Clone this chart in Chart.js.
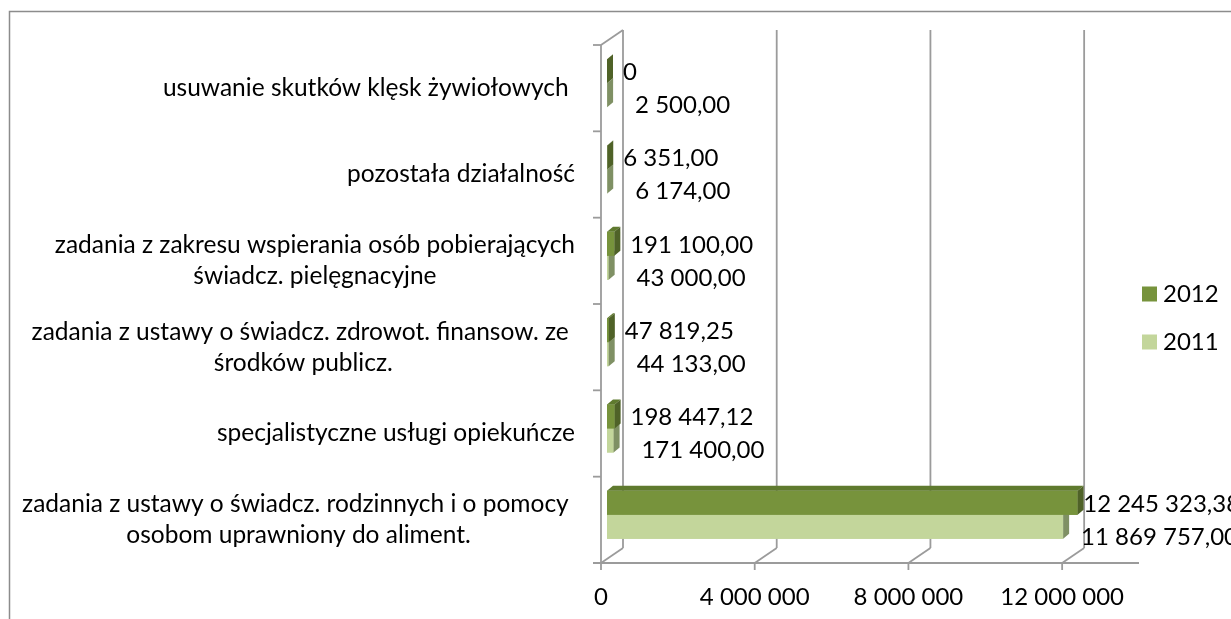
<!DOCTYPE html>
<html>
<head>
<meta charset="utf-8">
<script src="https://cdn.jsdelivr.net/npm/chart.js@4.4.0/dist/chart.umd.min.js"></script>
<style>
    html, body { margin: 0; padding: 0; background: #fff; }
    #wrap { width: 1231px; height: 619px; }
</style>
</head>
<body>
<div id="wrap"><canvas id="chart" width="1231" height="619"></canvas></div>
<script>
const categories = [
    ['usuwanie skutków klęsk żywiołowych '],
    ['pozostała działalność'],
    ['zadania z zakresu wspierania osób pobierających', 'świadcz. pielęgnacyjne'],
    ['zadania z ustawy o świadcz. zdrowot. finansow. ze ', 'środków publicz.'],
    ['specjalistyczne usługi opiekuńcze'],
    ['zadania z ustawy o świadcz. rodzinnych i o pomocy ', 'osobom uprawniony do aliment.']
];
const values2012 = [0, 6351.00, 191100.00, 47819.25, 198447.12, 12245323.38];
const values2011 = [2500.00, 6174.00, 43000.00, 44133.00, 171400.00, 11869757.00];
const seriesNames = ['2012', '2011'];
const axisTicks = [0, 4000000, 8000000, 12000000];
const axisMax = 14000000;

const FONT = 'Lato, "Liberation Sans", sans-serif';
const FONT_SIZE = 24;
// 3D look: walls go back by DX/DY, bars sit BX/BY behind the front plane
const DX = 22, DY = -15;
const BX = 6, BY = -5;

const faces = [
    { front: '#77933c', top: '#5f7a2e', side: '#4f6228' },   // 2012
    { front: '#c3d69b', top: '#a8bc7c', side: '#7f9064' }    // 2011
];

function group(str) {
    return str.replace(/\B(?=(\d{3})+(?!\d))/g, ' ');
}
function fmtInt(v) { return group(String(Math.round(v))); }
function fmtVal(v) {
    if (v === 0) return '0';
    const parts = v.toFixed(2).split('.');
    return group(parts[0]) + ',' + parts[1];
}

const excel3d = {
    id: 'excel3d',
    beforeDraw(chart) {
        const c = chart.ctx;
        c.save();
        c.fillStyle = '#fff';
        c.fillRect(0, 0, chart.width, chart.height);
        c.strokeStyle = '#8c8c8c';
        c.lineWidth = 1.5;
        c.strokeRect(9.5, 11.5, chart.width + 20, chart.height + 20);
        c.restore();
    },
    beforeDatasetsDraw(chart) {
        const c = chart.ctx, a = chart.chartArea, x = chart.scales.x, y = chart.scales.y;
        const fl = a.left - BX, ft = a.top - BY, fb = a.bottom - BY, fr = a.right - BX;
        const line = (x1, y1, x2, y2) => { c.beginPath(); c.moveTo(x1, y1); c.lineTo(x2, y2); c.stroke(); };
        c.save();
        c.strokeStyle = '#9b9b9b';
        c.lineWidth = 1.8;
        // back wall gridlines, floor diagonals, tick marks
        x.ticks.forEach(t => {
            const px = x.getPixelForValue(t.value) - BX;
            line(px + DX, ft + DY, px + DX, fb + DY);
            line(px, fb, px + DX, fb + DY);
            line(px, fb, px, fb + 7);
        });
        // left wall
        line(fl, ft, fl, fb);
        line(fl, ft, fl + DX, ft + DY);
        // floor front edge
        line(fl - 8, fb, fr, fb);
        // category ticks
        for (let i = 0; i <= categories.length; i++) {
            const py = y.getPixelForValue(i - 0.5) - BY;
            line(fl - 8, py, fl, py);
        }
        c.restore();
    },
    afterDatasetsDraw(chart) {
        const c = chart.ctx;
        const metas = [chart.getDatasetMeta(0), chart.getDatasetMeta(1)];

        function box(el, f) {
            const p = el.getProps(['x', 'y', 'base', 'height'], true);
            const top = p.y - p.height / 2, bot = p.y + p.height / 2;
            const l = p.base, r = p.x;
            c.fillStyle = f.front;
            c.fillRect(l, top, r - l, p.height);
            c.fillStyle = f.top;
            c.beginPath();
            c.moveTo(l, top); c.lineTo(r, top); c.lineTo(r + BX, top + BY); c.lineTo(l + BX, top + BY);
            c.closePath(); c.fill();
            c.fillStyle = f.side;
            c.beginPath();
            c.moveTo(r, top); c.lineTo(r + BX, top + BY); c.lineTo(r + BX, bot + BY); c.lineTo(r, bot);
            c.closePath(); c.fill();
        }

        c.save();
        for (let i = 0; i < categories.length; i++) {
            box(metas[1].data[i], faces[1]);
            box(metas[0].data[i], faces[0]);
        }

        // value labels
        c.fillStyle = '#000';
        c.font = FONT_SIZE + 'px ' + FONT;
        c.textAlign = 'left';
        c.textBaseline = 'middle';
        const offs = [{ dx: 16, dy: 1 }, { dx: 28, dy: 10 }];
        metas.forEach((meta, d) => {
            const vals = chart.data.datasets[d].data;
            meta.data.forEach((el, i) => {
                const p = el.getProps(['x', 'y', 'base'], true);
                const lx = p.x + offs[d].dx - 0.022 * (p.x - p.base);
                c.fillText(fmtVal(vals[i]), lx, p.y + offs[d].dy);
            });
        });
        c.restore();
    },
    afterDraw(chart) {
        const c = chart.ctx, a = chart.chartArea, y = chart.scales.y;
        c.save();
        c.fillStyle = '#000';
        c.font = (FONT_SIZE + 0.5) + 'px ' + FONT;
        c.textBaseline = 'middle';
        c.textAlign = 'center';
        // category labels: block right-aligned to the axis, lines centred
        const right = a.left - BX - 26;
        const lh = 31;
        chart.data.labels.forEach((lines, i) => {
            const cy = y.getPixelForValue(i) - BY;
            const w = Math.max(...lines.map(s => c.measureText(s).width));
            const cx = right - w / 2;
            lines.forEach((s, k) => {
                c.fillText(s, cx, cy + (k - (lines.length - 1) / 2) * lh);
            });
        });
        // legend
        c.font = FONT_SIZE + 'px ' + FONT;
        c.textAlign = 'left';
        chart.data.datasets.forEach((ds, d) => {
            const ly = 294 + d * 48;
            c.fillStyle = ds.backgroundColor;
            c.fillRect(1142, ly - 7.5, 15, 15);
            c.fillStyle = '#000';
            c.fillText(ds.label, 1163, ly);
        });
        c.restore();
    }
};

new Chart(document.getElementById('chart').getContext('2d'), {
    type: 'bar',
    data: {
        labels: categories,
        datasets: [
            { label: seriesNames[0], data: values2012, backgroundColor: faces[0].front, borderWidth: 0 },
            { label: seriesNames[1], data: values2011, backgroundColor: faces[1].front, borderWidth: 0 }
        ]
    },
    options: {
        indexAxis: 'y',
        responsive: false,
        animation: false,
        layout: { padding: { top: 40, right: 86, bottom: 0, left: 0 } },
        datasets: { bar: { categoryPercentage: 0.556, barPercentage: 1.0 } },
        scales: {
            x: {
                min: 0,
                max: axisMax,
                grid: { display: false, drawTicks: false },
                border: { display: false },
                afterBuildTicks: s => { s.ticks = axisTicks.map(v => ({ value: v })); },
                afterFit: s => { s.height = 61; },
                ticks: {
                    labelOffset: -BX,
                    padding: 25,
                    maxRotation: 0,
                    autoSkip: false,
                    color: '#000',
                    font: { family: FONT, size: FONT_SIZE },
                    callback: v => fmtInt(v)
                }
            },
            y: {
                grid: { display: false, drawTicks: false },
                border: { display: false },
                ticks: { display: false },
                afterFit: s => { s.width = 607; }
            }
        },
        plugins: { legend: { display: false }, tooltip: { enabled: false } }
    },
    plugins: [excel3d]
});
</script>
</body>
</html>
